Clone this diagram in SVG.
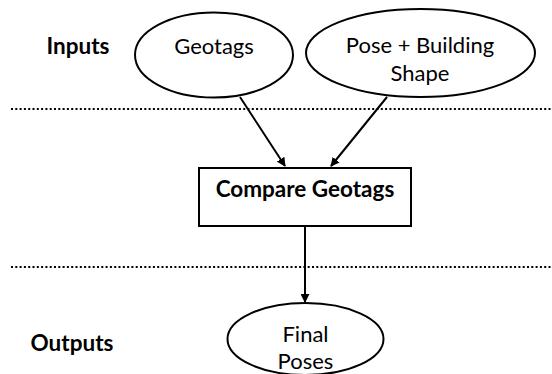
<svg xmlns="http://www.w3.org/2000/svg" width="552" height="374" viewBox="0 0 552 374">
<defs>
<style>
.shape{fill:#fff;stroke:#000;stroke-width:2}
.t{font-family:Lato,"Liberation Sans",sans-serif;font-size:22px;fill:#000;text-anchor:middle}
.b{font-weight:bold;font-size:22.5px}
.dot{stroke:#000;stroke-width:2;stroke-dasharray:2 2.3;fill:none}
.conn{stroke:#000;stroke-width:2;fill:none;marker-end:url(#arr)}
</style>
<marker id="arr" viewBox="0 0 10 10" refX="9" refY="5" markerWidth="4.5" markerHeight="4.5" orient="auto" markerUnits="strokeWidth">
<path d="M0,0 L10,5 L0,10 z" fill="#000"/>
</marker>
</defs>
<rect width="552" height="374" fill="#fff"/>
<g id="separators">
<line class="dot" x1="11" y1="109" x2="552" y2="109"/>
<line class="dot" x1="11" y1="267" x2="552" y2="267"/>
</g>
<g id="label-inputs"><text class="t b" x="78" y="54">Inputs</text></g>
<g id="label-outputs"><text class="t b" x="72" y="351">Outputs</text></g>
<g id="connectors">
<line class="conn" x1="240" y1="97" x2="285" y2="166"/>
<line class="conn" x1="387" y1="97" x2="331" y2="166"/>
<line class="conn" x1="305" y1="226" x2="305" y2="302"/>
</g>
<g id="node-geotags">
<ellipse class="shape" cx="214" cy="55" rx="79" ry="42.5"/>
<text class="t" x="214" y="54">Geotags</text>
</g>
<g id="node-pose">
<ellipse class="shape" cx="420.5" cy="53" rx="114.5" ry="44"/>
<text class="t" x="420" y="53">Pose + Building</text>
<text class="t" x="420" y="81">Shape</text>
</g>
<g id="node-compare">
<rect class="shape" x="199" y="168" width="212" height="58"/>
<text class="t b" x="305" y="197">Compare Geotags</text>
</g>
<g id="node-final">
<ellipse class="shape" cx="305.5" cy="339" rx="78" ry="36"/>
<text class="t" x="305.5" y="342">Final</text>
<text class="t" x="305.5" y="369">Poses</text>
</g>
</svg>
